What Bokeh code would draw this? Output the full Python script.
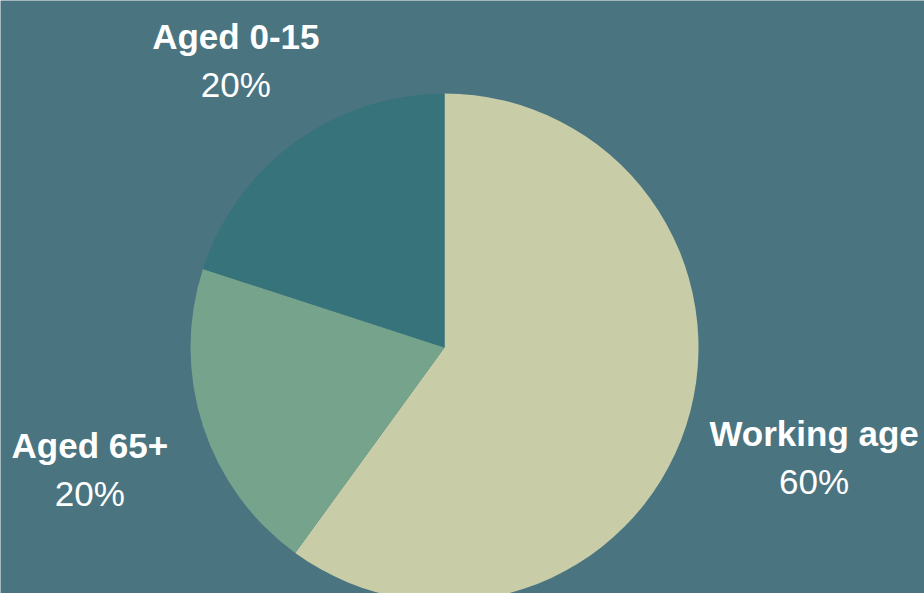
import math
from bokeh.plotting import figure
from bokeh.models import Range1d, ColumnDataSource
from bokeh.core.properties import value
from bokeh.embed import file_html
from bokeh.resources import INLINE

# ---- data ----
categories = ["Working age", "Aged 65+", "Aged 0-15"]
values = [60, 20, 20]
colors = ["#c8cda8", "#76a38c", "#36737a"]

# ---- layout ----
W, H = 924, 593
BG = "#4a7480"
cx, cy = 444, H - 347
R = 254
label_r = 355
label_dx = [32, -17, 0]
label_dy = [0, -12, 0]
line_gap = 24

total = float(sum(values))
starts, ends, name_x, name_y, pct_y, pct_txt = [], [], [], [], [], []
cum = 0.0
for i, v in enumerate(values):
    a_end = math.radians(90 - cum / total * 360)
    cum += v
    a_start = math.radians(90 - cum / total * 360)
    starts.append(a_start)
    ends.append(a_end)
    mid = (a_start + a_end) / 2
    lx = cx + label_r * math.cos(mid) + label_dx[i]
    ly = cy + label_r * math.sin(mid) + label_dy[i]
    name_x.append(lx)
    name_y.append(ly + line_gap)
    pct_y.append(ly - line_gap)
    pct_txt.append(f"{round(v / total * 100)}%")

src = ColumnDataSource(dict(start=starts, end=ends, color=colors, cat=categories,
                            nx=name_x, ny=name_y, py=pct_y, pct=pct_txt))

p = figure(width=W, height=H, output_backend="svg", toolbar_location=None,
           x_range=Range1d(0, W), y_range=Range1d(0, H), min_border=0,
           background_fill_color=BG, border_fill_color=BG, outline_line_color=None)
p.axis.visible = False
p.grid.visible = False

p.wedge(x=cx, y=cy, radius=R, start_angle="start", end_angle="end",
        fill_color="color", line_color=None, source=src)

p.text(x="nx", y="ny", text="cat", source=src, text_color="white",
       text_font=value("Liberation Sans"), text_font_style="bold",
       text_font_size="35px", text_align="center", text_baseline="middle")
p.text(x="nx", y="py", text="pct", source=src, text_color="white",
       text_font=value("Liberation Sans"), text_font_size="35px",
       text_align="center", text_baseline="middle")

open("out.html", "w").write(file_html(p, INLINE))
